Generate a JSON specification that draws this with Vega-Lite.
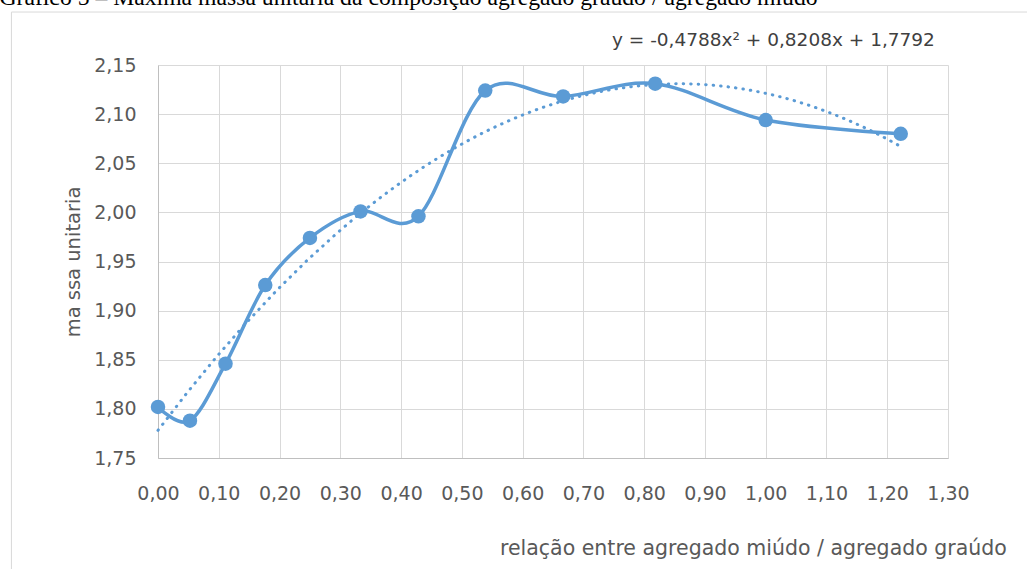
{
  "$schema": "https://vega.github.io/schema/vega-lite/v6.json",
  "width": 790,
  "height": 393,
  "autosize": {"type": "none"},
  "padding": {"left": 158, "top": 65, "right": 79, "bottom": 111},
  "background": "white",
  "config": {"view": {"stroke": null}, "font": "DejaVu Sans"},
  "data": {
    "values": [
      {"x": 0.0, "y": 1.802},
      {"x": 0.0526, "y": 1.788},
      {"x": 0.1111, "y": 1.846},
      {"x": 0.1765, "y": 1.926},
      {"x": 0.25, "y": 1.974},
      {"x": 0.3333, "y": 2.001},
      {"x": 0.4286, "y": 1.996},
      {"x": 0.5385, "y": 2.124},
      {"x": 0.6667, "y": 2.118},
      {"x": 0.8182, "y": 2.131},
      {"x": 1.0, "y": 2.094},
      {"x": 1.2222, "y": 2.080}
    ]
  },
  "layer": [
    {
      "data": {"values": [{"k": 1}]},
      "mark": {"type": "rect", "fill": null, "stroke": "#d9d9d9", "strokeWidth": 1},
      "encoding": {
        "x": {"datum": -0.2412, "type": "quantitative", "title": "relação entre agregado miúdo / agregado graúdo", "scale": {"domain": [0, 1.3], "nice": false, "zero": false}},
        "x2": {"datum": 1.7},
        "y": {"datum": 2.2039, "type": "quantitative", "title": "ma ssa unitaria", "scale": {"domain": [1.75, 2.15], "nice": false, "zero": false}},
        "y2": {"datum": 1.4}
      }
    },
    {
      "transform": [
        {"regression": "y", "on": "x", "method": "poly", "order": 2, "extent": [0, 1.2222]}
      ],
      "mark": {"type": "line", "color": "#5b9bd5", "strokeWidth": 3, "strokeDash": [0.5, 7], "strokeCap": "round"},
      "encoding": {
        "x": {"field": "x", "type": "quantitative", "title": "relação entre agregado miúdo / agregado graúdo", "scale": {"domain": [0, 1.3], "nice": false, "zero": false}},
        "y": {"field": "y", "type": "quantitative", "title": "ma ssa unitaria", "scale": {"domain": [1.75, 2.15], "nice": false, "zero": false}}
      }
    },
    {
      "mark": {"type": "line", "color": "#5b9bd5", "strokeWidth": 3.5, "interpolate": "cardinal"},
      "encoding": {
        "x": {
          "field": "x", "type": "quantitative",
          "title": "relação entre agregado miúdo / agregado graúdo",
          "scale": {"domain": [0, 1.3], "nice": false, "zero": false},
          "axis": {
            "values": [0, 0.05, 0.1, 0.15, 0.2, 0.25, 0.3, 0.35, 0.4, 0.45, 0.5, 0.55, 0.6, 0.65, 0.7, 0.75, 0.8, 0.85, 0.9, 0.95, 1.0, 1.05, 1.1, 1.15, 1.2, 1.25, 1.3],
            "labelExpr": "round(datum.value*100) % 10 == 0 ? replace(format(datum.value, '.2f'), '.', ',') : ''",
            "ticks": false,
            "domain": true,
            "domainColor": "#bfbfbf",
            "domainWidth": 1,
            "grid": true,
            "gridColor": {"condition": {"test": "round(datum.value*100) % 10 != 0", "value": "#eeeeee"}, "value": "#d9d9d9"},
            "gridWidth": 1,
            "labelFont": "DejaVu Sans",
            "labelFontSize": 19,
            "labelColor": "#595959",
            "labelPadding": 26,
            "labelBaseline": "top",
            "labelOverlap": false,
            "labelFlush": false,
            "titleFont": "DejaVu Sans",
            "titleFontSize": 20.5,
            "titleFontWeight": "normal",
            "titleColor": "#595959",
            "titleAnchor": "start",
            "titleAlign": "left",
            "titleX": 341.5,
            "titleY": 96,
            "titleBaseline": "alphabetic"
          }
        },
        "y": {
          "field": "y", "type": "quantitative",
          "title": "ma ssa unitaria",
          "scale": {"domain": [1.75, 2.15], "nice": false, "zero": false},
          "axis": {
            "values": [1.75, 1.8, 1.85, 1.9, 1.95, 2.0, 2.05, 2.1, 2.15],
            "labelExpr": "replace(format(datum.value, '.2f'), '.', ',')",
            "ticks": false,
            "domain": true,
            "domainColor": "#bfbfbf",
            "grid": true,
            "gridColor": "#d9d9d9",
            "gridWidth": 1,
            "labelFont": "DejaVu Sans",
            "labelFontSize": 19,
            "labelColor": "#595959",
            "labelPadding": 22,
            "labelBaseline": "middle",
            "labelOverlap": false,
            "labelFlush": false,
            "titleFont": "DejaVu Sans",
            "titleFontSize": 19.5,
            "titleFontWeight": "normal",
            "titleColor": "#595959",
            "titleAngle": -90,
            "titleAlign": "center",
            "titleBaseline": "alphabetic",
            "titleX": -78.5,
            "titleY": 196.5
          }
        }
      }
    },
    {
      "mark": {"type": "point", "filled": true, "size": 210, "opacity": 1, "color": "#5b9bd5"},
      "encoding": {
        "x": {"field": "x", "type": "quantitative", "title": "relação entre agregado miúdo / agregado graúdo", "scale": {"domain": [0, 1.3], "nice": false, "zero": false}},
        "y": {"field": "y", "type": "quantitative", "title": "ma ssa unitaria", "scale": {"domain": [1.75, 2.15], "nice": false, "zero": false}}
      }
    },
    {
      "data": {"values": [{"label": "y = -0,4788x² + 0,8208x + 1,7792"}]},
      "mark": {"type": "text", "font": "DejaVu Sans", "fontSize": 18.5, "color": "#404040", "align": "center", "baseline": "alphabetic"},
      "encoding": {
        "text": {"field": "label"},
        "x": {"datum": 1.0127, "type": "quantitative", "title": "relação entre agregado miúdo / agregado graúdo", "scale": {"domain": [0, 1.3], "nice": false, "zero": false}},
        "y": {"datum": 2.1693, "type": "quantitative", "title": "ma ssa unitaria", "scale": {"domain": [1.75, 2.15], "nice": false, "zero": false}}
      }
    },
    {
      "data": {"values": [{"label": "Gráfico 5 – Máxima massa unitária da composição agregado graúdo / agregado miúdo"}]},
      "mark": {"type": "text", "font": "Liberation Serif", "fontSize": 23.7, "color": "#000000", "align": "left", "baseline": "alphabetic"},
      "encoding": {
        "text": {"field": "label"},
        "x": {"datum": -0.261, "type": "quantitative", "title": "relação entre agregado miúdo / agregado graúdo", "scale": {"domain": [0, 1.3], "nice": false, "zero": false}},
        "y": {"datum": 2.211, "type": "quantitative", "title": "ma ssa unitaria", "scale": {"domain": [1.75, 2.15], "nice": false, "zero": false}}
      }
    }
  ]
}
